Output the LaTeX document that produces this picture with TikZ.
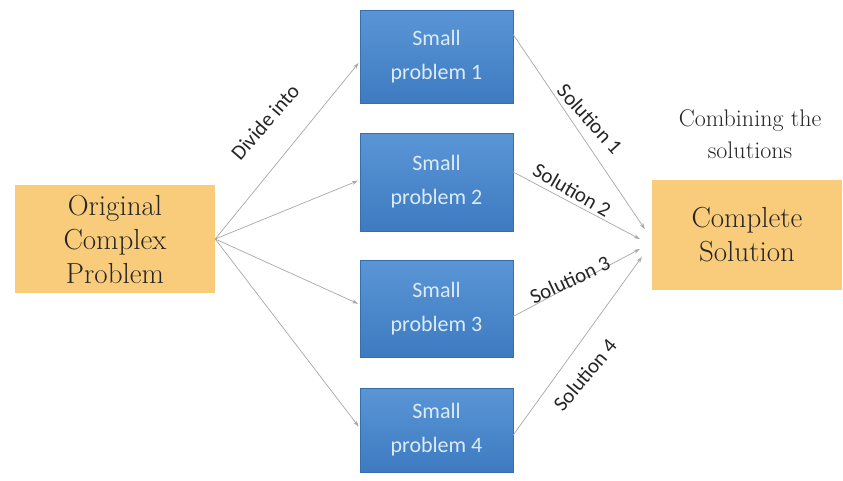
\documentclass[tikz,border=0pt]{standalone}
\usepackage{fontspec}
\newfontfamily\carlito{Carlito}
\usetikzlibrary{arrows.meta,calc}
\definecolor{orangebox}{HTML}{F9CC7C}
\definecolor{bluetop}{HTML}{5A96D6}
\definecolor{bluebot}{HTML}{3D7AC0}
\definecolor{bluetext}{HTML}{DCEBF8}
\definecolor{arrowgray}{HTML}{A8A8A8}
\begin{document}
\begin{tikzpicture}[x=1pt,y=-1pt,
  bigbox/.style={fill=orangebox, draw=none, inner sep=0pt, align=center,
    font=\fontsize{29}{34}\selectfont, text=black!85},
  smallbox/.style={top color=bluetop, bottom color=bluebot, draw=bluebot!90!black, line width=0.4pt,
    minimum width=153pt, inner sep=0pt, align=center,
    font=\carlito\fontsize{22}{34}\selectfont, text=bluetext},
  conn/.style={draw=arrowgray, line width=0.7pt, -{Stealth[length=6pt,width=4pt]}},
  lbl/.style={font=\carlito\fontsize{21}{24}\selectfont, text=black!85, inner sep=0pt}]
\useasboundingbox (0,0) rectangle (843,480);
\fill[white] (0,0) rectangle (843,480);

\node[bigbox, minimum width=200pt, minimum height=108pt] (orig) at (115,239) {Original\\Complex\\Problem};
\node[bigbox, minimum width=190pt, minimum height=110pt] (cs) at (747,235) {Complete\\Solution};

\node[smallbox, minimum height=93pt] (s1) at (436.5,56.5) {Small\\problem 1};
\node[smallbox, minimum height=98pt] (s2) at (436.5,182) {Small\\problem 2};
\node[smallbox, minimum height=97pt] (s3) at (436.5,308.5) {Small\\problem 3};
\node[smallbox, minimum height=84pt] (s4) at (436.5,430) {Small\\problem 4};

\draw[conn, shorten >=2pt] (orig.east) -- ([yshift=-5pt]s1.west);
\draw[conn, shorten >=2pt] (orig.east) -- ([yshift=2pt]s2.west);
\draw[conn, shorten >=2pt] (orig.east) -- ([yshift=4pt]s3.west);
\draw[conn, shorten >=2pt] (orig.east) -- ([yshift=2pt]s4.west);

\draw[conn] ([yshift=22pt]s1.east) -- ($(cs.west)+(-7,-6)$);
\draw[conn] ([yshift=10pt]s2.east) -- ($(cs.west)+(-12,4)$);
\draw[conn] ([yshift=-8pt]s3.east) -- ($(cs.west)+(-12,14)$);
\draw[conn] ([yshift=-5pt]s4.east) -- ($(cs.west)+(-10,22)$);

\node[lbl, rotate=49] (divide) at (265,122) {Divide into};
\node[lbl, rotate=-48] (sol1) at (590,119) {Solution 1};
\node[lbl, rotate=-30] (sol2) at (572,190) {Solution 2};
\node[lbl, rotate=25] (sol3) at (570,280) {Solution 3};
\node[lbl, rotate=50] (sol4) at (585,375) {Solution 4};

\node[align=center, font=\fontsize{24}{32}\selectfont, text=black!85, inner sep=0pt] (comb) at (750,134) {Combining the\\solutions};
\end{tikzpicture}
\end{document}
